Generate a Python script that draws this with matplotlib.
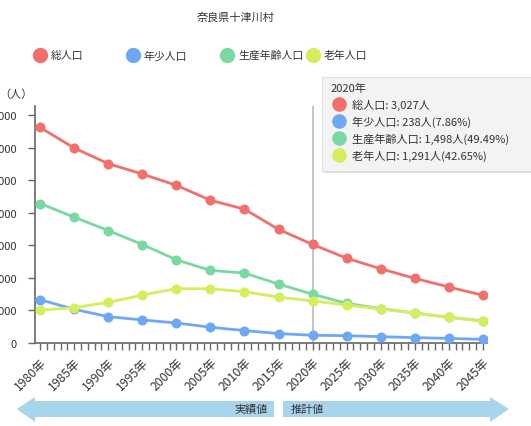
import matplotlib
matplotlib.use("Agg")
import matplotlib.pyplot as plt
from matplotlib.lines import Line2D
from matplotlib.patches import Polygon, Rectangle

plt.rcParams['font.family'] = ['Noto Sans CJK JP', 'DejaVu Sans']

years = [1980, 1985, 1990, 1995, 2000, 2005, 2010, 2015, 2020, 2025, 2030, 2035, 2040, 2045]
total = [6620, 5990, 5510, 5190, 4845, 4385, 4110, 3490, 3027, 2605, 2280, 1985, 1720, 1465]
young = [1330, 1035, 810, 708, 615, 485, 382, 290, 238, 225, 195, 165, 142, 112]
working = [4285, 3865, 3455, 3025, 2558, 2230, 2148, 1810, 1498, 1220, 1055, 920, 790, 680]
elderly = [1012, 1085, 1248, 1473, 1668, 1668, 1576, 1410, 1291, 1168, 1045, 920, 790, 668]
series_names = ['総人口', '年少人口', '生産年齢人口', '老年人口']
colors = ['#f2706b', '#6ea8f5', '#7ad8a2', '#d5ee5c']
tick_years = years
tooltip_year = 2020
tooltip_lines = ['総人口: 3,027人', '年少人口: 238人(7.86%)',
                 '生産年齢人口: 1,498人(49.49%)', '老年人口: 1,291人(42.65%)']

W, H = 531, 427
fig = plt.figure(figsize=(W / 100, H / 100), dpi=100)

def fx(x):
    return x / W

def fy(y):
    return 1 - y / H

# axes: left 35, right 487, top 107, bottom 344
ax = fig.add_axes([fx(35), fy(344), fx(487) - fx(35), fy(107) - fy(344)])

for vals, c in zip([total, young, working, elderly], colors):
    ax.plot(years, vals, color=c, lw=2, marker='o', ms=6.2, mec=c, mfc=c, zorder=3)

ax.set_xlim(1979.25, 2045.6)
ax.set_ylim(0, 7280)
ax.set_yticks(range(0, 7001, 1000))
ax.set_yticklabels([str(v) for v in range(0, 7001, 1000)], fontsize=8, color='#333333')
ax.set_xticks(tick_years)
ax.set_xticklabels([f'{y}年' for y in tick_years], rotation=45, ha='right',
                   rotation_mode='anchor', fontsize=8.8, color='#333333')
ax.set_xticks(range(1980, 2046), minor=True)
ax.tick_params(axis='x', which='both', length=5, width=1, color='#666666', direction='out', pad=4)
ax.tick_params(axis='y', length=5, width=1, color='#666666', direction='out', pad=8)
for s in ['top', 'right']:
    ax.spines[s].set_visible(False)
for s in ['left', 'bottom']:
    ax.spines[s].set_color('#666666')
    ax.spines[s].set_linewidth(1.2)

# crosshair
ax.axvline(tooltip_year, color='#bbbbbb', lw=1.2, zorder=1)

# title
fig.text(fx(236), fy(18), '奈良県十津川村', ha='center', va='center', fontsize=8, color='#333333')

# y unit
fig.text(fx(16), fy(95), '（人）', ha='center', va='center', fontsize=8, color='#333333')

# legend
leg_x = [40, 133, 227, 313]
for x, name, c in zip(leg_x, series_names, colors):
    fig.add_artist(Line2D([fx(x)], [fy(56)], marker='o', ms=10, color=c, mec=c,
                          transform=fig.transFigure))
    fig.text(fx(x + 11), fy(56), name, ha='left', va='center', fontsize=7.8, color='#333333')

# tooltip
shadow = Rectangle((fx(324), fy(174)), fx(220), fy(78) - fy(174), transform=fig.transFigure,
                   facecolor='#dddddd', edgecolor='none', zorder=4)
fig.add_artist(shadow)
box = Rectangle((fx(322), fy(172)), fx(220), fy(78) - fy(172), transform=fig.transFigure,
                facecolor='#f3f3f3', edgecolor='#e0e0e0', lw=0.8, zorder=5)
fig.add_artist(box)
fig.text(fx(331), fy(89), f'{tooltip_year}年', ha='left', va='center', fontsize=8,
         color='#333333', zorder=6)
for i, (line, c) in enumerate(zip(tooltip_lines, colors)):
    yy = 105 + i * 17
    fig.add_artist(Line2D([fx(339)], [fy(yy)], marker='o', ms=9.5, color=c, mec=c,
                          transform=fig.transFigure, zorder=6))
    fig.text(fx(352), fy(yy), line, ha='left', va='center', fontsize=8, color='#333333', zorder=6)

# bottom arrows
acol = '#a9d5ec'
left_arrow = [(16.7, 410), (35, 398), (35, 402), (274, 402), (274, 418), (35, 418), (35, 423)]
right_arrow = [(283, 402), (490, 402), (490, 398), (509, 410), (490, 423), (490, 418), (283, 418)]
for pts in [left_arrow, right_arrow]:
    fig.add_artist(Polygon([(fx(x), fy(y)) for x, y in pts], closed=True,
                           transform=fig.transFigure, facecolor=acol, edgecolor='none'))
fig.text(fx(268), fy(410), '実績値', ha='right', va='center', fontsize=8, color='#333333')
fig.text(fx(291), fy(410), '推計値', ha='left', va='center', fontsize=8, color='#333333')

fig.savefig('out.png', dpi=100)
